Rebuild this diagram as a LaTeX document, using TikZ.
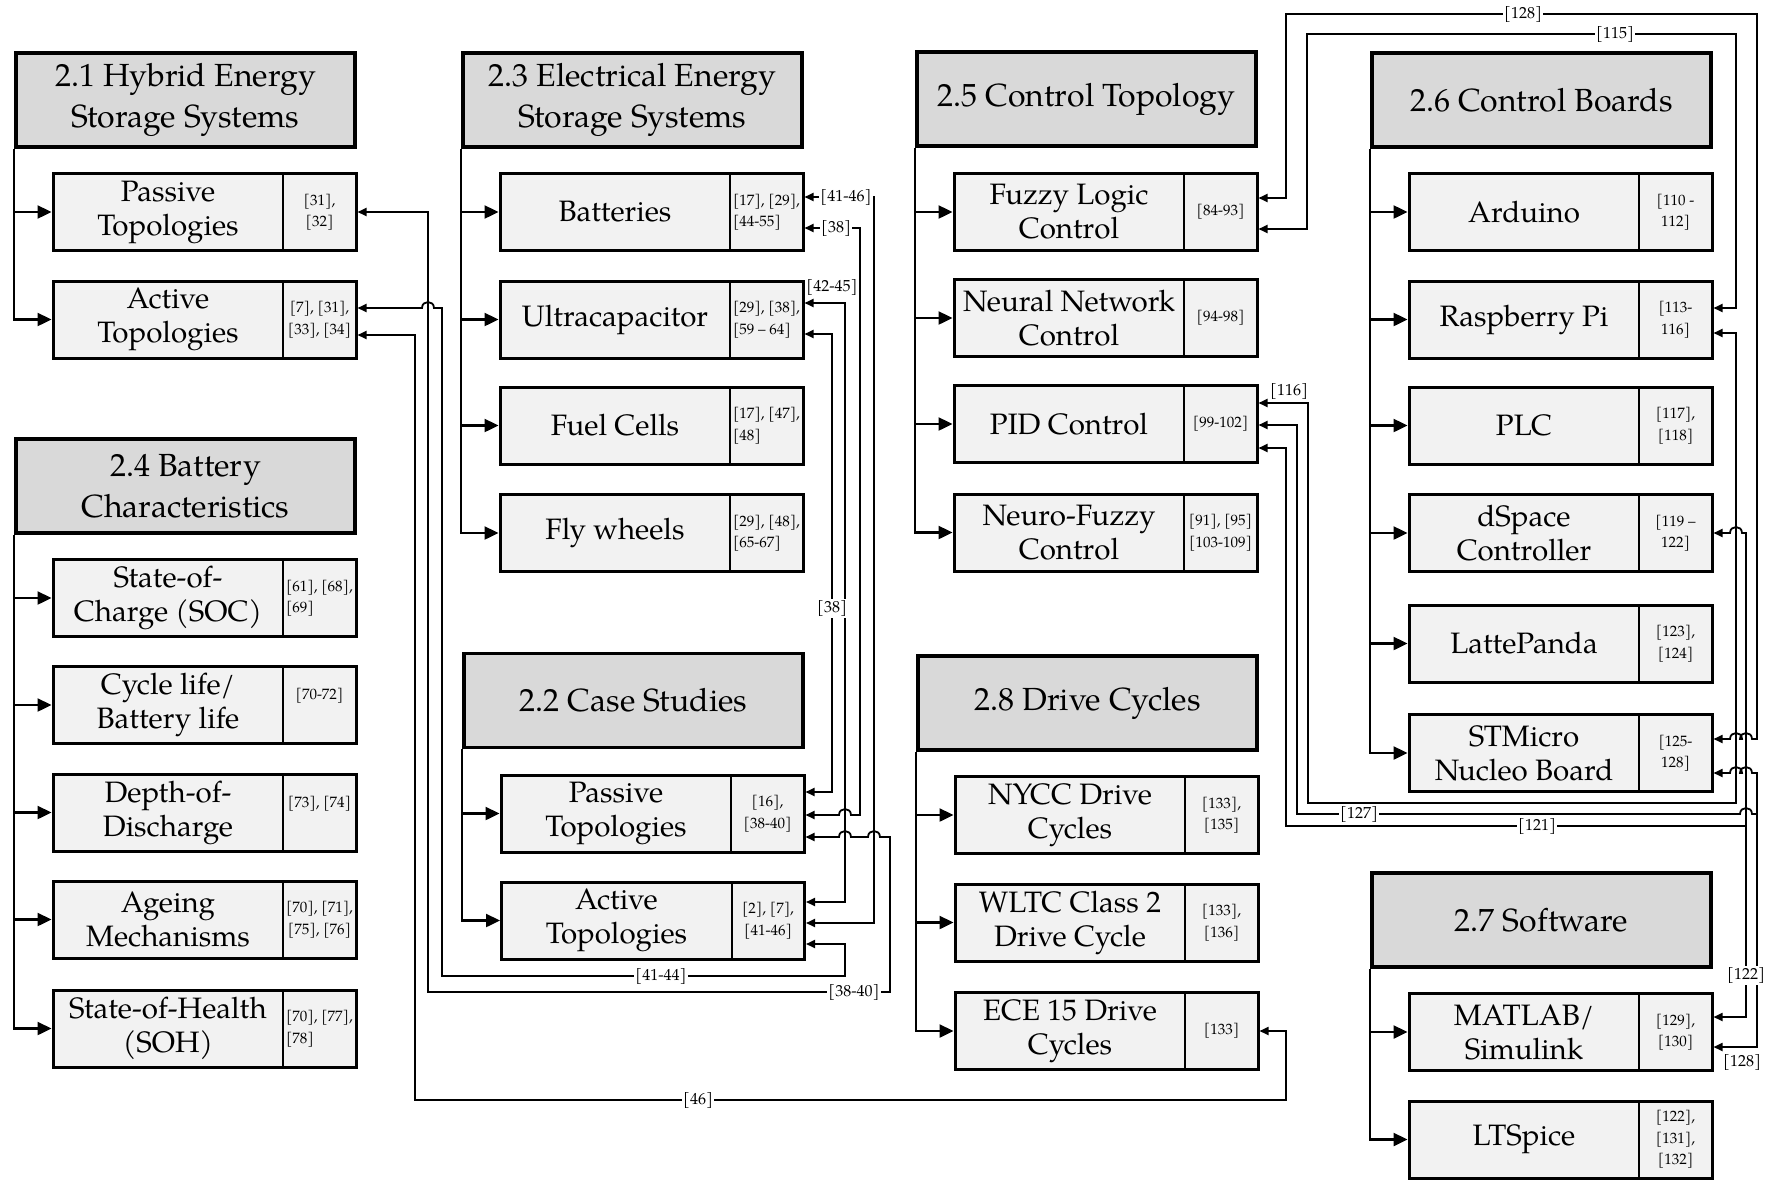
\documentclass[tikz,border=0pt]{standalone}
\usepackage{fontspec}
\setmainfont{TeX Gyre Pagella}
\usepackage{xcolor}
\usepackage{tikz}
\usetikzlibrary{arrows.meta,positioning,calc}
\definecolor{hdrgray}{RGB}{217,217,217}
\definecolor{boxgray}{RGB}{242,242,242}
% main text cell and reference cell of a sub box
\newcommand{\cellpair}[2]{\parbox[c]{230pt}{\centering #1}\parbox[c]{73pt}{\centering\fontsize{15}{21.5}\selectfont #2}}
\newcommand{\lft}{\raggedright\leftskip=3pt\relax}
% line hops (travelling to the left / to the right)
\newcommand{\jumpL}[2]{-- ({#1+6},#2) .. controls ({#1+6},{#2-8}) and ({#1-6},{#2-8}) .. ({#1-6},#2)}
\newcommand{\jumpR}[2]{-- ({#1-6},#2) .. controls ({#1-6},{#2-8}) and ({#1+6},{#2-8}) .. ({#1+6},#2)}
\tikzset{
  hdr/.style={draw, line width=3.5pt, fill=hdrgray, minimum width=339pt, minimum height=94pt,
    align=center, inner sep=0pt, font=\fontsize{32}{41}\selectfont},
  subbox/.style={draw, line width=3pt, fill=boxgray, minimum width=303pt, minimum height=77pt,
    inner sep=0pt, font=\fontsize{29.5}{34}\selectfont,
    path picture={\draw[line width=2pt] ([xshift=230pt]path picture bounding box.north west) -- ([xshift=230pt]path picture bounding box.south west);}},
  trunk/.style={line width=2.4pt, -{Triangle[length=14pt,width=13pt]}},
  link/.style={line width=1.8pt, {Triangle[length=9pt,width=8pt]}-{Triangle[length=9pt,width=8pt]}},
  branch/.style={line width=1.8pt, {Triangle[length=9pt,width=8pt]}-},
  lbl/.style={fill=white, inner sep=1.5pt, font=\fontsize{16}{18}\selectfont}
}
\begin{document}
\begin{tikzpicture}[x=1pt, y=-1pt]
    \useasboundingbox (0,0) rectangle (1769,1181);

    % 2.1 and 2.4
    \node[hdr] (h21) at (185.5,100) {2.1 Hybrid Energy\\Storage Systems};
    \node[subbox] (pas1) at (204.5,212) {\cellpair{Passive\\Topologies}{[31],\\{}[32]}};
    \node[subbox] (act1) at (204.5,319.5) {\cellpair{Active\\Topologies}{[7], [31],\\{}[33], [34]}};
    \node[hdr] (h24) at (185.5,486) {2.4 Battery\\Characteristics};
    \node[subbox] (soc) at (204.5,598) {\cellpair{State-of-\\Charge (SOC)}{\lft [61], [68],\\{}[69]}};
    \node[subbox] (cyc) at (204.5,705) {\cellpair{Cycle life/\\Battery life}{[70-72]\\\mbox{}}};
    \node[subbox] (dod) at (204.5,812.5) {\cellpair{Depth-of-\\Discharge}{[73], [74]\\\mbox{}}};
    \node[subbox] (age) at (204.5,919.5) {\cellpair{Ageing\\Mechanisms}{[70], [71],\\{}[75], [76]}};
    \node[subbox] (soh) at (204.5,1028.5) {\cellpair{State-of-Health\\(SOH)}{\lft [70], [77],\\{}[78]}};

    % 2.3 and 2.2
    \node[hdr] (h23) at (632.5,100) {2.3 Electrical Energy\\Storage Systems};
    \node[subbox] (bat) at (651.5,212) {\cellpair{Batteries}{\lft [17], [29],\\{}[44-55]}};
    \node[subbox] (ucap) at (651.5,319.5) {\cellpair{Ultracapacitor}{\lft [29], [38],\\{}[59 – 64]}};
    \node[subbox] (fuel) at (651.5,425.5) {\cellpair{Fuel Cells}{\lft [17], [47],\\{}[48]}};
    \node[subbox] (fly) at (651.5,533) {\cellpair{Fly wheels}{\lft [29], [48],\\{}[65-67]}};
    \node[hdr] (h22) at (633.5,700.5) {2.2 Case Studies};
    \node[subbox] (pas2) at (652.5,813.5) {\cellpair{Passive\\Topologies}{[16],\\{}[38-40]}};
    \node[subbox] (act2) at (653,920.5) {\cellpair{Active\\Topologies}{[2], [7],\\{}[41-46]}};

    % 2.5 and 2.8
    \node[hdr] (h25) at (1086.5,99) {2.5 Control Topology};
    \node[subbox] (flc) at (1105.5,212) {\cellpair{Fuzzy Logic\\Control}{[84-93]}};
    \node[subbox] (nnc) at (1105.5,318) {\cellpair{Neural Network\\Control}{[94-98]}};
    \node[subbox] (pid) at (1105.5,424) {\cellpair{PID Control}{[99-102]}};
    \node[subbox] (nfc) at (1105.5,532.5) {\cellpair{Neuro-Fuzzy\\Control}{[91], [95]\\{}[103-109]}};
    \node[hdr] (h28) at (1087.5,703) {2.8 Drive Cycles};
    \node[subbox] (nycc) at (1106.5,815) {\cellpair{NYCC Drive\\Cycles}{[133],\\{}[135]}};
    \node[subbox] (wltc) at (1106.5,922.5) {\cellpair{WLTC Class 2\\Drive Cycle}{[133],\\{}[136]}};
    \node[subbox] (ece) at (1106.5,1031) {\cellpair{ECE 15 Drive\\Cycles}{[133]}};

    % 2.6 and 2.7
    \node[hdr] (h26) at (1541.5,100) {2.6 Control Boards};
    \node[subbox] (ard) at (1560.5,212) {\cellpair{Arduino}{[110 -\\112]}};
    \node[subbox] (rpi) at (1560.5,319.5) {\cellpair{Raspberry Pi}{[113-\\116]}};
    \node[subbox] (plc) at (1560.5,425.5) {\cellpair{PLC}{[117],\\{}[118]}};
    \node[subbox] (dsp) at (1560.5,533) {\cellpair{dSpace\\Controller}{[119 –\\122]}};
    \node[subbox] (lat) at (1560.5,643.5) {\cellpair{LattePanda}{[123],\\{}[124]}};
    \node[subbox] (stm) at (1560.5,753) {\cellpair{STMicro\\Nucleo Board}{[125-\\128]}};
    \node[hdr] (h27) at (1541.5,920) {2.7 Software};
    \node[subbox] (mat) at (1560.5,1032) {\cellpair{MATLAB/\\Simulink}{[129],\\{}[130]}};
    \node[subbox] (lts) at (1560.5,1139.5) {\cellpair{LTSpice}{[122],\\{}[131],\\{}[132]}};

    % Trunks from the section headers
    \foreach \bx in {pas1,act1} {\draw[trunk] (h21.south west) |- (\bx.west);}
    \foreach \bx in {soc,cyc,dod,age,soh} {\draw[trunk] (h24.south west) |- (\bx.west);}
    \foreach \bx in {bat,ucap,fuel,fly} {\draw[trunk] (h23.south west) |- (\bx.west);}
    \foreach \bx in {pas2,act2} {\draw[trunk] (h22.south west) |- (\bx.west);}
    \foreach \bx in {flc,nnc,pid,nfc} {\draw[trunk] (h25.south west) |- (\bx.west);}
    \foreach \bx in {nycc,wltc,ece} {\draw[trunk] (h28.south west) |- (\bx.west);}
    \foreach \bx in {ard,rpi,plc,dsp,lat,stm} {\draw[trunk] (h26.south west) |- (\bx.west);}
    \foreach \bx in {mat,lts} {\draw[trunk] (h27.south west) |- (\bx.west);}

    % Cross references, left part
    \draw[link] (act1.east |- 0,335) -- (415,335) |- (1286,1100) |- (ece.east);
    \draw[link] (pas1.east) -- (428,212) |- (890,992) -- (890,837) \jumpL{874}{837} \jumpL{845}{837} -- (pas2.east |- 0,837);
    \draw[link] (act1.east |- 0,308) \jumpR{428}{308} -- (442,308) |- (845,976) |- (act2.east |- 0,944);
    \draw[link] (bat.east |- 0,197) -- (874,197) |- (act2.east |- 0,923);
    \draw[link] (bat.east |- 0,228) -- (860,228) -- (860,815) \jumpL{845}{815} -- (pas2.east |- 0,815);
    \draw[link] (ucap.east |- 0,303) -- (845,303) |- (act2.east |- 0,902);
    \draw[link] (ucap.east |- 0,334) -- (832,334) |- (pas2.east |- 0,792);

    % Cross references, right part
    \draw[link] (flc.east |- 0,198) -- (1286,198) |- (1757,14) -- (1757,739) \jumpL{1746}{739} \jumpL{1736}{739} -- (stm.east |- 0,739);
    \draw[link] (flc.east |- 0,229) -- (1307,229) |- (1736,34) |- (rpi.east |- 0,308);
    \draw[link] (rpi.east |- 0,333) -- (1736,333) |- (1308,803) |- (pid.east |- 0,403);
    \draw[link] (dsp.east) \jumpR{1736}{533} -- (1746,533) |- (mat.east |- 0,1017);
    \draw[branch] (pid.east |- 0,448) -- (1286,448) |- (1746,826);
    \draw[link] (stm.east |- 0,773) \jumpR{1736}{773} \jumpR{1746}{773} -- (1757,773) |- (mat.east |- 0,1047);
    \draw[branch] (pid.east |- 0,425) -- (1297,425) -- (1297,814) \jumpR{1746}{814} -- (1757,814);

    % Labels on the cross references
    \node[lbl] (l46) at (698,1100) {[46]};
    \node[lbl] (l4144) at (661,976) {[41-44]};
    \node[lbl] (l3840) at (854,992) {[38-40]};
    \node[lbl] (l4146) at (846,197) {[41-46]};
    \node[lbl] (l38a) at (836,228) {[38]};
    \node[lbl] (l4245) at (832,287) {[42-45]};
    \node[lbl] (l38b) at (832,608) {[38]};
    \node[lbl] (l128a) at (1523,14) {[128]};
    \node[lbl] (l115) at (1615,34) {[115]};
    \node[lbl] (l116) at (1289,391) {[116]};
    \node[lbl] (l127) at (1359,814) {[127]};
    \node[lbl] (l121) at (1537,826) {[121]};
    \node[lbl] (l122) at (1746,975) {[122]};
    \node[lbl] (l128b) at (1742,1062) {[128]};
\end{tikzpicture}
\end{document}
